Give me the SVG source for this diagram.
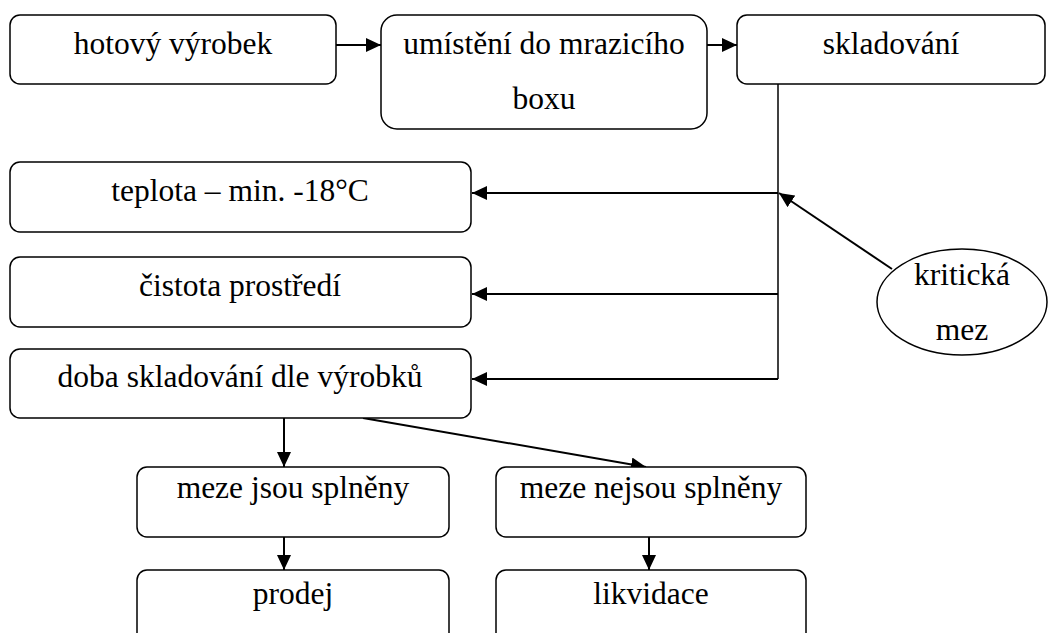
<svg xmlns="http://www.w3.org/2000/svg" width="1054" height="633" viewBox="0 0 1054 633">
  <style>
    .box { fill: #fff; stroke: #000; stroke-width: 1.5; }
    .lbl { font-family: 'Liberation Serif', 'Times New Roman', serif; font-size: 31.5px; fill: #000; text-anchor: middle; }
    .con { fill: none; stroke: #000; stroke-width: 2; }
    .thin { fill: none; stroke: #000; stroke-width: 1.5; }
  </style>
  <defs>
    <marker id="arr" markerUnits="userSpaceOnUse" markerWidth="16" markerHeight="14" refX="15" refY="7" orient="auto">
      <path d="M0,0 L15,7 L0,14 Z" fill="#000"/>
    </marker>
  </defs>
  <rect width="1054" height="633" fill="#fff"/>

  <!-- flow arrows; the storage line branches left into the three condition boxes -->
  <g id="connectors">
    <line class="con" x1="336" y1="45" x2="381" y2="45" marker-end="url(#arr)"/>
    <line class="con" x1="707" y1="45" x2="737" y2="45" marker-end="url(#arr)"/>
    <path class="thin" d="M778,84 V379"/>
    <line class="con" x1="778" y1="193" x2="472" y2="193" marker-end="url(#arr)"/>
    <line class="con" x1="778" y1="294" x2="472" y2="294" marker-end="url(#arr)"/>
    <line class="con" x1="778" y1="379" x2="472" y2="379" marker-end="url(#arr)"/>
    <line class="con" x1="892" y1="269" x2="779" y2="193" marker-end="url(#arr)"/>
    <line class="con" x1="284" y1="418" x2="284" y2="467" marker-end="url(#arr)"/>
    <line class="con" x1="363" y1="418" x2="646" y2="467" marker-end="url(#arr)"/>
    <line class="con" x1="284" y1="537" x2="284" y2="570" marker-end="url(#arr)"/>
    <line class="con" x1="649" y1="537" x2="649" y2="570" marker-end="url(#arr)"/>
  </g>

  <g id="hotovy-vyrobek">
    <rect class="box" x="10" y="15" width="326" height="69" rx="10"/>
    <text class="lbl" x="173" y="54">hotový výrobek</text>
  </g>
  <g id="umisteni">
    <rect class="box" x="381" y="15" width="326" height="114" rx="16"/>
    <text class="lbl" x="544" y="54">umístění do mrazicího</text>
    <text class="lbl" x="544" y="109">boxu</text>
  </g>
  <g id="skladovani">
    <rect class="box" x="737" y="15" width="308" height="69" rx="10"/>
    <text class="lbl" x="891" y="54">skladování</text>
  </g>
  <g id="teplota">
    <rect class="box" x="10" y="162" width="461" height="70" rx="10"/>
    <text class="lbl" x="240" y="201">teplota – min. -18°C</text>
  </g>
  <g id="cistota">
    <rect class="box" x="10" y="257" width="461" height="70" rx="10"/>
    <text class="lbl" x="240" y="296">čistota prostředí</text>
  </g>
  <g id="doba">
    <rect class="box" x="10" y="349" width="461" height="69" rx="10"/>
    <text class="lbl" x="240" y="387">doba skladování dle výrobků</text>
  </g>
  <g id="kriticka-mez">
    <ellipse class="box" cx="962" cy="302" rx="85" ry="53"/>
    <text class="lbl" x="962" y="285">kritická</text>
    <text class="lbl" x="962" y="340">mez</text>
  </g>
  <g id="meze-splneny">
    <rect class="box" x="137" y="467" width="312" height="70" rx="10"/>
    <text class="lbl" x="293" y="498">meze jsou splněny</text>
  </g>
  <g id="meze-nesplneny">
    <rect class="box" x="496" y="467" width="310" height="70" rx="10"/>
    <text class="lbl" x="651" y="498">meze nejsou splněny</text>
  </g>
  <g id="prodej">
    <rect class="box" x="137" y="570" width="312" height="80" rx="10"/>
    <text class="lbl" x="293" y="604">prodej</text>
  </g>
  <g id="likvidace">
    <rect class="box" x="496" y="570" width="310" height="80" rx="10"/>
    <text class="lbl" x="651" y="604">likvidace</text>
  </g>
</svg>
